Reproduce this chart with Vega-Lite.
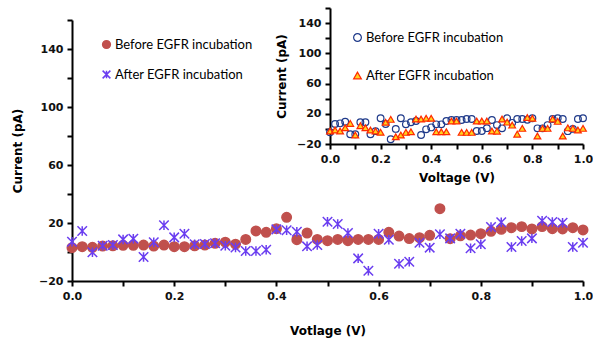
{
  "$schema": "https://vega.github.io/schema/vega-lite/v6.json",
  "width": 511,
  "height": 261,
  "autosize": {"type": "none"},
  "padding": {"left": 72, "top": 20, "right": 10, "bottom": 64},
  "config": {
    "view": {"stroke": null},
    "axis": {
      "grid": false,
      "domainColor": "black",
      "domainWidth": 2,
      "tickColor": "black",
      "tickWidth": 2,
      "tickSize": 5,
      "labelPadding": 4,
      "labelFont": "DejaVu Sans",
      "labelFontWeight": "bold",
      "labelFontSize": 11,
      "labelColor": "#111111",
      "labelFlush": false,
      "labelOverlap": false,
      "labelBound": false,
      "titleFont": "DejaVu Sans",
      "titleFontWeight": "bold",
      "titleFontSize": 12,
      "titleColor": "black"
    }
  },
  "datasets": {
    "main": [
      {"v": 0.00, "c": 3.0, "s": "Before EGFR incubation"},
      {"v": 0.02, "c": 3.7, "s": "Before EGFR incubation"},
      {"v": 0.04, "c": 3.2, "s": "Before EGFR incubation"},
      {"v": 0.06, "c": 4.1, "s": "Before EGFR incubation"},
      {"v": 0.08, "c": 4.3, "s": "Before EGFR incubation"},
      {"v": 0.10, "c": 4.6, "s": "Before EGFR incubation"},
      {"v": 0.12, "c": 4.6, "s": "Before EGFR incubation"},
      {"v": 0.14, "c": 4.8, "s": "Before EGFR incubation"},
      {"v": 0.16, "c": 4.1, "s": "Before EGFR incubation"},
      {"v": 0.18, "c": 4.8, "s": "Before EGFR incubation"},
      {"v": 0.20, "c": 3.7, "s": "Before EGFR incubation"},
      {"v": 0.22, "c": 3.7, "s": "Before EGFR incubation"},
      {"v": 0.24, "c": 4.3, "s": "Before EGFR incubation"},
      {"v": 0.26, "c": 4.8, "s": "Before EGFR incubation"},
      {"v": 0.28, "c": 6.0, "s": "Before EGFR incubation"},
      {"v": 0.30, "c": 6.8, "s": "Before EGFR incubation"},
      {"v": 0.32, "c": 5.4, "s": "Before EGFR incubation"},
      {"v": 0.34, "c": 8.7, "s": "Before EGFR incubation"},
      {"v": 0.36, "c": 14.5, "s": "Before EGFR incubation"},
      {"v": 0.38, "c": 13.6, "s": "Before EGFR incubation"},
      {"v": 0.40, "c": 16.1, "s": "Before EGFR incubation"},
      {"v": 0.42, "c": 23.9, "s": "Before EGFR incubation"},
      {"v": 0.44, "c": 8.5, "s": "Before EGFR incubation"},
      {"v": 0.46, "c": 13.1, "s": "Before EGFR incubation"},
      {"v": 0.48, "c": 8.7, "s": "Before EGFR incubation"},
      {"v": 0.50, "c": 7.8, "s": "Before EGFR incubation"},
      {"v": 0.52, "c": 8.7, "s": "Before EGFR incubation"},
      {"v": 0.54, "c": 7.8, "s": "Before EGFR incubation"},
      {"v": 0.56, "c": 8.7, "s": "Before EGFR incubation"},
      {"v": 0.58, "c": 8.7, "s": "Before EGFR incubation"},
      {"v": 0.60, "c": 8.7, "s": "Before EGFR incubation"},
      {"v": 0.62, "c": 13.6, "s": "Before EGFR incubation"},
      {"v": 0.64, "c": 11.0, "s": "Before EGFR incubation"},
      {"v": 0.66, "c": 9.3, "s": "Before EGFR incubation"},
      {"v": 0.68, "c": 9.9, "s": "Before EGFR incubation"},
      {"v": 0.70, "c": 11.5, "s": "Before EGFR incubation"},
      {"v": 0.72, "c": 29.9, "s": "Before EGFR incubation"},
      {"v": 0.74, "c": 9.2, "s": "Before EGFR incubation"},
      {"v": 0.76, "c": 11.2, "s": "Before EGFR incubation"},
      {"v": 0.78, "c": 11.7, "s": "Before EGFR incubation"},
      {"v": 0.80, "c": 12.6, "s": "Before EGFR incubation"},
      {"v": 0.82, "c": 14.3, "s": "Before EGFR incubation"},
      {"v": 0.84, "c": 15.6, "s": "Before EGFR incubation"},
      {"v": 0.86, "c": 16.8, "s": "Before EGFR incubation"},
      {"v": 0.88, "c": 17.5, "s": "Before EGFR incubation"},
      {"v": 0.90, "c": 15.9, "s": "Before EGFR incubation"},
      {"v": 0.92, "c": 17.5, "s": "Before EGFR incubation"},
      {"v": 0.94, "c": 16.1, "s": "Before EGFR incubation"},
      {"v": 0.96, "c": 15.9, "s": "Before EGFR incubation"},
      {"v": 0.98, "c": 16.8, "s": "Before EGFR incubation"},
      {"v": 1.00, "c": 15.2, "s": "Before EGFR incubation"},
      {"v": 0.00, "c": 7.1, "s": "After EGFR incubation"},
      {"v": 0.02, "c": 14.5, "s": "After EGFR incubation"},
      {"v": 0.04, "c": -0.2, "s": "After EGFR incubation"},
      {"v": 0.06, "c": 4.3, "s": "After EGFR incubation"},
      {"v": 0.08, "c": 4.8, "s": "After EGFR incubation"},
      {"v": 0.10, "c": 8.7, "s": "After EGFR incubation"},
      {"v": 0.12, "c": 9.2, "s": "After EGFR incubation"},
      {"v": 0.14, "c": -3.4, "s": "After EGFR incubation"},
      {"v": 0.16, "c": 6.7, "s": "After EGFR incubation"},
      {"v": 0.18, "c": 18.4, "s": "After EGFR incubation"},
      {"v": 0.20, "c": 10.1, "s": "After EGFR incubation"},
      {"v": 0.22, "c": 12.6, "s": "After EGFR incubation"},
      {"v": 0.24, "c": 5.3, "s": "After EGFR incubation"},
      {"v": 0.26, "c": 5.5, "s": "After EGFR incubation"},
      {"v": 0.28, "c": 6.0, "s": "After EGFR incubation"},
      {"v": 0.30, "c": 4.3, "s": "After EGFR incubation"},
      {"v": 0.32, "c": 3.1, "s": "After EGFR incubation"},
      {"v": 0.34, "c": 0.7, "s": "After EGFR incubation"},
      {"v": 0.36, "c": 0.7, "s": "After EGFR incubation"},
      {"v": 0.38, "c": 1.6, "s": "After EGFR incubation"},
      {"v": 0.40, "c": 15.6, "s": "After EGFR incubation"},
      {"v": 0.42, "c": 15.0, "s": "After EGFR incubation"},
      {"v": 0.44, "c": 14.0, "s": "After EGFR incubation"},
      {"v": 0.46, "c": 3.9, "s": "After EGFR incubation"},
      {"v": 0.48, "c": 4.8, "s": "After EGFR incubation"},
      {"v": 0.50, "c": 20.9, "s": "After EGFR incubation"},
      {"v": 0.52, "c": 19.3, "s": "After EGFR incubation"},
      {"v": 0.54, "c": 13.1, "s": "After EGFR incubation"},
      {"v": 0.56, "c": -4.4, "s": "After EGFR incubation"},
      {"v": 0.58, "c": -12.9, "s": "After EGFR incubation"},
      {"v": 0.60, "c": 12.6, "s": "After EGFR incubation"},
      {"v": 0.62, "c": 8.5, "s": "After EGFR incubation"},
      {"v": 0.64, "c": -8.1, "s": "After EGFR incubation"},
      {"v": 0.66, "c": -6.7, "s": "After EGFR incubation"},
      {"v": 0.68, "c": 6.4, "s": "After EGFR incubation"},
      {"v": 0.70, "c": 3.0, "s": "After EGFR incubation"},
      {"v": 0.72, "c": 12.2, "s": "After EGFR incubation"},
      {"v": 0.74, "c": 9.4, "s": "After EGFR incubation"},
      {"v": 0.76, "c": 12.6, "s": "After EGFR incubation"},
      {"v": 0.78, "c": 2.6, "s": "After EGFR incubation"},
      {"v": 0.80, "c": 5.3, "s": "After EGFR incubation"},
      {"v": 0.82, "c": 17.2, "s": "After EGFR incubation"},
      {"v": 0.84, "c": 20.5, "s": "After EGFR incubation"},
      {"v": 0.86, "c": 3.4, "s": "After EGFR incubation"},
      {"v": 0.88, "c": 7.6, "s": "After EGFR incubation"},
      {"v": 0.90, "c": 9.4, "s": "After EGFR incubation"},
      {"v": 0.92, "c": 21.6, "s": "After EGFR incubation"},
      {"v": 0.94, "c": 20.7, "s": "After EGFR incubation"},
      {"v": 0.96, "c": 20.2, "s": "After EGFR incubation"},
      {"v": 0.98, "c": 3.4, "s": "After EGFR incubation"},
      {"v": 1.00, "c": 6.4, "s": "After EGFR incubation"}
    ],
    "inset": [
      {"v": 0.00, "c": -4.5, "s": "Before EGFR incubation"},
      {"v": 0.02, "c": 6.4, "s": "Before EGFR incubation"},
      {"v": 0.04, "c": 7.3, "s": "Before EGFR incubation"},
      {"v": 0.06, "c": 9.5, "s": "Before EGFR incubation"},
      {"v": 0.08, "c": -7.2, "s": "Before EGFR incubation"},
      {"v": 0.10, "c": -7.2, "s": "Before EGFR incubation"},
      {"v": 0.12, "c": 8.7, "s": "Before EGFR incubation"},
      {"v": 0.14, "c": 8.7, "s": "Before EGFR incubation"},
      {"v": 0.16, "c": -7.2, "s": "Before EGFR incubation"},
      {"v": 0.18, "c": -3.0, "s": "Before EGFR incubation"},
      {"v": 0.20, "c": 14.0, "s": "Before EGFR incubation"},
      {"v": 0.22, "c": 6.4, "s": "Before EGFR incubation"},
      {"v": 0.24, "c": -13.8, "s": "Before EGFR incubation"},
      {"v": 0.26, "c": 0.0, "s": "Before EGFR incubation"},
      {"v": 0.28, "c": 14.0, "s": "Before EGFR incubation"},
      {"v": 0.30, "c": 6.0, "s": "Before EGFR incubation"},
      {"v": 0.32, "c": 8.7, "s": "Before EGFR incubation"},
      {"v": 0.34, "c": 10.4, "s": "Before EGFR incubation"},
      {"v": 0.36, "c": -8.1, "s": "Before EGFR incubation"},
      {"v": 0.38, "c": -0.6, "s": "Before EGFR incubation"},
      {"v": 0.40, "c": 2.0, "s": "Before EGFR incubation"},
      {"v": 0.42, "c": 6.0, "s": "Before EGFR incubation"},
      {"v": 0.44, "c": 6.0, "s": "Before EGFR incubation"},
      {"v": 0.46, "c": 10.4, "s": "Before EGFR incubation"},
      {"v": 0.48, "c": 11.7, "s": "Before EGFR incubation"},
      {"v": 0.50, "c": 11.7, "s": "Before EGFR incubation"},
      {"v": 0.52, "c": 11.7, "s": "Before EGFR incubation"},
      {"v": 0.54, "c": 13.0, "s": "Before EGFR incubation"},
      {"v": 0.56, "c": 13.0, "s": "Before EGFR incubation"},
      {"v": 0.58, "c": -2.8, "s": "Before EGFR incubation"},
      {"v": 0.60, "c": -2.8, "s": "Before EGFR incubation"},
      {"v": 0.62, "c": 1.0, "s": "Before EGFR incubation"},
      {"v": 0.64, "c": 11.7, "s": "Before EGFR incubation"},
      {"v": 0.66, "c": 5.0, "s": "Before EGFR incubation"},
      {"v": 0.68, "c": 0.7, "s": "Before EGFR incubation"},
      {"v": 0.70, "c": 14.0, "s": "Before EGFR incubation"},
      {"v": 0.72, "c": 8.0, "s": "Before EGFR incubation"},
      {"v": 0.74, "c": 13.0, "s": "Before EGFR incubation"},
      {"v": 0.76, "c": 13.0, "s": "Before EGFR incubation"},
      {"v": 0.78, "c": 12.0, "s": "Before EGFR incubation"},
      {"v": 0.80, "c": 14.0, "s": "Before EGFR incubation"},
      {"v": 0.82, "c": 0.7, "s": "Before EGFR incubation"},
      {"v": 0.84, "c": 0.7, "s": "Before EGFR incubation"},
      {"v": 0.86, "c": 5.0, "s": "Before EGFR incubation"},
      {"v": 0.88, "c": 13.0, "s": "Before EGFR incubation"},
      {"v": 0.90, "c": 14.0, "s": "Before EGFR incubation"},
      {"v": 0.92, "c": 13.0, "s": "Before EGFR incubation"},
      {"v": 0.94, "c": -3.0, "s": "Before EGFR incubation"},
      {"v": 0.96, "c": 0.0, "s": "Before EGFR incubation"},
      {"v": 0.98, "c": 13.0, "s": "Before EGFR incubation"},
      {"v": 1.00, "c": 14.0, "s": "Before EGFR incubation"},
      {"v": 0.00, "c": -2.8, "s": "After EGFR incubation"},
      {"v": 0.02, "c": -1.5, "s": "After EGFR incubation"},
      {"v": 0.04, "c": -2.8, "s": "After EGFR incubation"},
      {"v": 0.06, "c": 1.5, "s": "After EGFR incubation"},
      {"v": 0.08, "c": 7.3, "s": "After EGFR incubation"},
      {"v": 0.10, "c": -8.1, "s": "After EGFR incubation"},
      {"v": 0.12, "c": 4.2, "s": "After EGFR incubation"},
      {"v": 0.14, "c": 1.5, "s": "After EGFR incubation"},
      {"v": 0.16, "c": -1.5, "s": "After EGFR incubation"},
      {"v": 0.18, "c": -2.8, "s": "After EGFR incubation"},
      {"v": 0.20, "c": -4.5, "s": "After EGFR incubation"},
      {"v": 0.22, "c": 8.7, "s": "After EGFR incubation"},
      {"v": 0.24, "c": 12.6, "s": "After EGFR incubation"},
      {"v": 0.26, "c": -10.4, "s": "After EGFR incubation"},
      {"v": 0.28, "c": -8.1, "s": "After EGFR incubation"},
      {"v": 0.30, "c": -4.6, "s": "After EGFR incubation"},
      {"v": 0.32, "c": -3.8, "s": "After EGFR incubation"},
      {"v": 0.34, "c": 13.0, "s": "After EGFR incubation"},
      {"v": 0.36, "c": 13.0, "s": "After EGFR incubation"},
      {"v": 0.38, "c": 14.0, "s": "After EGFR incubation"},
      {"v": 0.40, "c": 14.0, "s": "After EGFR incubation"},
      {"v": 0.42, "c": -3.8, "s": "After EGFR incubation"},
      {"v": 0.44, "c": -3.8, "s": "After EGFR incubation"},
      {"v": 0.46, "c": -3.8, "s": "After EGFR incubation"},
      {"v": 0.48, "c": 10.4, "s": "After EGFR incubation"},
      {"v": 0.50, "c": 10.4, "s": "After EGFR incubation"},
      {"v": 0.52, "c": -4.6, "s": "After EGFR incubation"},
      {"v": 0.54, "c": -4.6, "s": "After EGFR incubation"},
      {"v": 0.56, "c": -4.6, "s": "After EGFR incubation"},
      {"v": 0.58, "c": 10.4, "s": "After EGFR incubation"},
      {"v": 0.60, "c": 10.4, "s": "After EGFR incubation"},
      {"v": 0.62, "c": 10.4, "s": "After EGFR incubation"},
      {"v": 0.64, "c": -2.8, "s": "After EGFR incubation"},
      {"v": 0.66, "c": -3.0, "s": "After EGFR incubation"},
      {"v": 0.68, "c": 13.0, "s": "After EGFR incubation"},
      {"v": 0.70, "c": 9.0, "s": "After EGFR incubation"},
      {"v": 0.72, "c": 5.0, "s": "After EGFR incubation"},
      {"v": 0.74, "c": -7.0, "s": "After EGFR incubation"},
      {"v": 0.76, "c": 0.7, "s": "After EGFR incubation"},
      {"v": 0.78, "c": 15.0, "s": "After EGFR incubation"},
      {"v": 0.80, "c": 14.0, "s": "After EGFR incubation"},
      {"v": 0.82, "c": -9.4, "s": "After EGFR incubation"},
      {"v": 0.84, "c": 0.7, "s": "After EGFR incubation"},
      {"v": 0.86, "c": 0.7, "s": "After EGFR incubation"},
      {"v": 0.88, "c": 13.0, "s": "After EGFR incubation"},
      {"v": 0.90, "c": 10.0, "s": "After EGFR incubation"},
      {"v": 0.92, "c": -9.4, "s": "After EGFR incubation"},
      {"v": 0.94, "c": 1.4, "s": "After EGFR incubation"},
      {"v": 0.96, "c": 0.7, "s": "After EGFR incubation"},
      {"v": 0.98, "c": -1.5, "s": "After EGFR incubation"},
      {"v": 1.00, "c": 0.7, "s": "After EGFR incubation"}
    ]
  },
  "layer": [
    {
      "data": {"name": "main"},
      "mark": {"type": "point", "opacity": 1, "strokeWidth": 1.5, "size": 90},
      "encoding": {
        "x": {
          "field": "v", "type": "quantitative",
          "scale": {"domain": [0, 1], "nice": false},
          "axis": {
            "orient": "bottom",
            "values": [0, 0.1, 0.2, 0.3, 0.4, 0.5, 0.6, 0.7, 0.8, 0.9, 1.0],
            "labelExpr": "round(datum.value*10)%2==0 ? format(datum.value,'.1f') : ''",
            "title": "Votlage (V)",
            "titlePadding": 24
          }
        },
        "y": {
          "field": "c", "type": "quantitative",
          "scale": {"domain": [-20, 160], "nice": false, "zero": false},
          "axis": {
            "orient": "left",
            "values": [-20, 0, 20, 40, 60, 80, 100, 120, 140, 160],
            "labelExpr": "abs(datum.value)%40==20 ? format(datum.value,'d') : ''",
            "title": "Current (pA)",
            "titlePadding": 14
          }
        },
        "fill": {
          "field": "s", "type": "nominal",
          "scale": {"domain": ["Before EGFR incubation", "After EGFR incubation"], "range": ["#C0504D", "transparent"]},
          "legend": {
            "orient": "none", "legendX": 28, "legendY": 18, "title": null,
            "labelFont": "Lato", "labelFontSize": 13, "labelColor": "black",
            "symbolSize": 60, "symbolStrokeWidth": 1.5, "rowPadding": 15, "labelOffset": 2, "padding": 0
          }
        },
        "stroke": {
          "field": "s", "type": "nominal",
          "scale": {"domain": ["Before EGFR incubation", "After EGFR incubation"], "range": ["#C0504D", "#6A3DF0"]},
          "legend": {
            "orient": "none", "legendX": 28, "legendY": 18, "title": null,
            "labelFont": "Lato", "labelFontSize": 13, "labelColor": "black",
            "symbolSize": 60, "symbolStrokeWidth": 1.5, "rowPadding": 15, "labelOffset": 2, "padding": 0
          }
        },
        "shape": {
          "field": "s", "type": "nominal",
          "scale": {"domain": ["Before EGFR incubation", "After EGFR incubation"], "range": ["circle", "M-1,-1L1,1M-1,1L1,-1M0,-1L0,1"]},
          "legend": {
            "orient": "none", "legendX": 28, "legendY": 18, "title": null,
            "labelFont": "Lato", "labelFontSize": 13, "labelColor": "black",
            "symbolSize": 60, "symbolStrokeWidth": 1.5, "rowPadding": 15, "labelOffset": 2, "padding": 0
          }
        }
      }
    },
    {
      "data": {"name": "inset"},
      "mark": {"type": "point", "opacity": 1, "strokeWidth": 1.2, "size": 45},
      "encoding": {
        "x": {
          "field": "v", "type": "quantitative",
          "scale": {"domain": [0, 1], "nice": false, "range": [258, 511]},
          "axis": {
            "orient": "bottom",
            "offset": -137,
            "values": [0, 0.1, 0.2, 0.3, 0.4, 0.5, 0.6, 0.7, 0.8, 0.9, 1.0],
            "labelExpr": "round(datum.value*10)%2==0 ? format(datum.value,'.1f') : ''",
            "title": "Voltage (V)",
            "titlePadding": 8
          }
        },
        "y": {
          "field": "c", "type": "quantitative",
          "scale": {"domain": [-20, 160], "nice": false, "zero": false, "range": [124, -12]},
          "axis": {
            "orient": "left",
            "offset": -258,
            "values": [-20, 0, 20, 40, 60, 80, 100, 120, 140, 160],
            "labelExpr": "abs(datum.value)%40==20 ? format(datum.value,'d') : ''",
            "title": "Current (pA)",
            "titlePadding": 8
          }
        },
        "fill": {
          "field": "s", "type": "nominal",
          "scale": {"domain": ["Before EGFR incubation", "After EGFR incubation"], "range": ["transparent", "#FFD21F"]},
          "legend": {
            "orient": "none", "legendX": 279, "legendY": 11, "title": null,
            "labelFont": "Lato", "labelFontSize": 13, "labelColor": "black",
            "symbolSize": 60, "symbolStrokeWidth": 1.2, "rowPadding": 24, "labelOffset": 2, "padding": 0
          }
        },
        "stroke": {
          "field": "s", "type": "nominal",
          "scale": {"domain": ["Before EGFR incubation", "After EGFR incubation"], "range": ["#1F3A8A", "#FF2A00"]},
          "legend": {
            "orient": "none", "legendX": 279, "legendY": 11, "title": null,
            "labelFont": "Lato", "labelFontSize": 13, "labelColor": "black",
            "symbolSize": 60, "symbolStrokeWidth": 1.2, "rowPadding": 24, "labelOffset": 2, "padding": 0
          }
        },
        "shape": {
          "field": "s", "type": "nominal",
          "scale": {"domain": ["Before EGFR incubation", "After EGFR incubation"], "range": ["circle", "triangle-up"]},
          "legend": {
            "orient": "none", "legendX": 279, "legendY": 11, "title": null,
            "labelFont": "Lato", "labelFontSize": 13, "labelColor": "black",
            "symbolSize": 60, "symbolStrokeWidth": 1.2, "rowPadding": 24, "labelOffset": 2, "padding": 0
          }
        }
      }
    }
  ],
  "resolve": {
    "scale": {"x": "independent", "y": "independent", "fill": "independent", "stroke": "independent", "shape": "independent"},
    "axis": {"x": "independent", "y": "independent"},
    "legend": {"fill": "independent", "stroke": "independent", "shape": "independent"}
  }
}
